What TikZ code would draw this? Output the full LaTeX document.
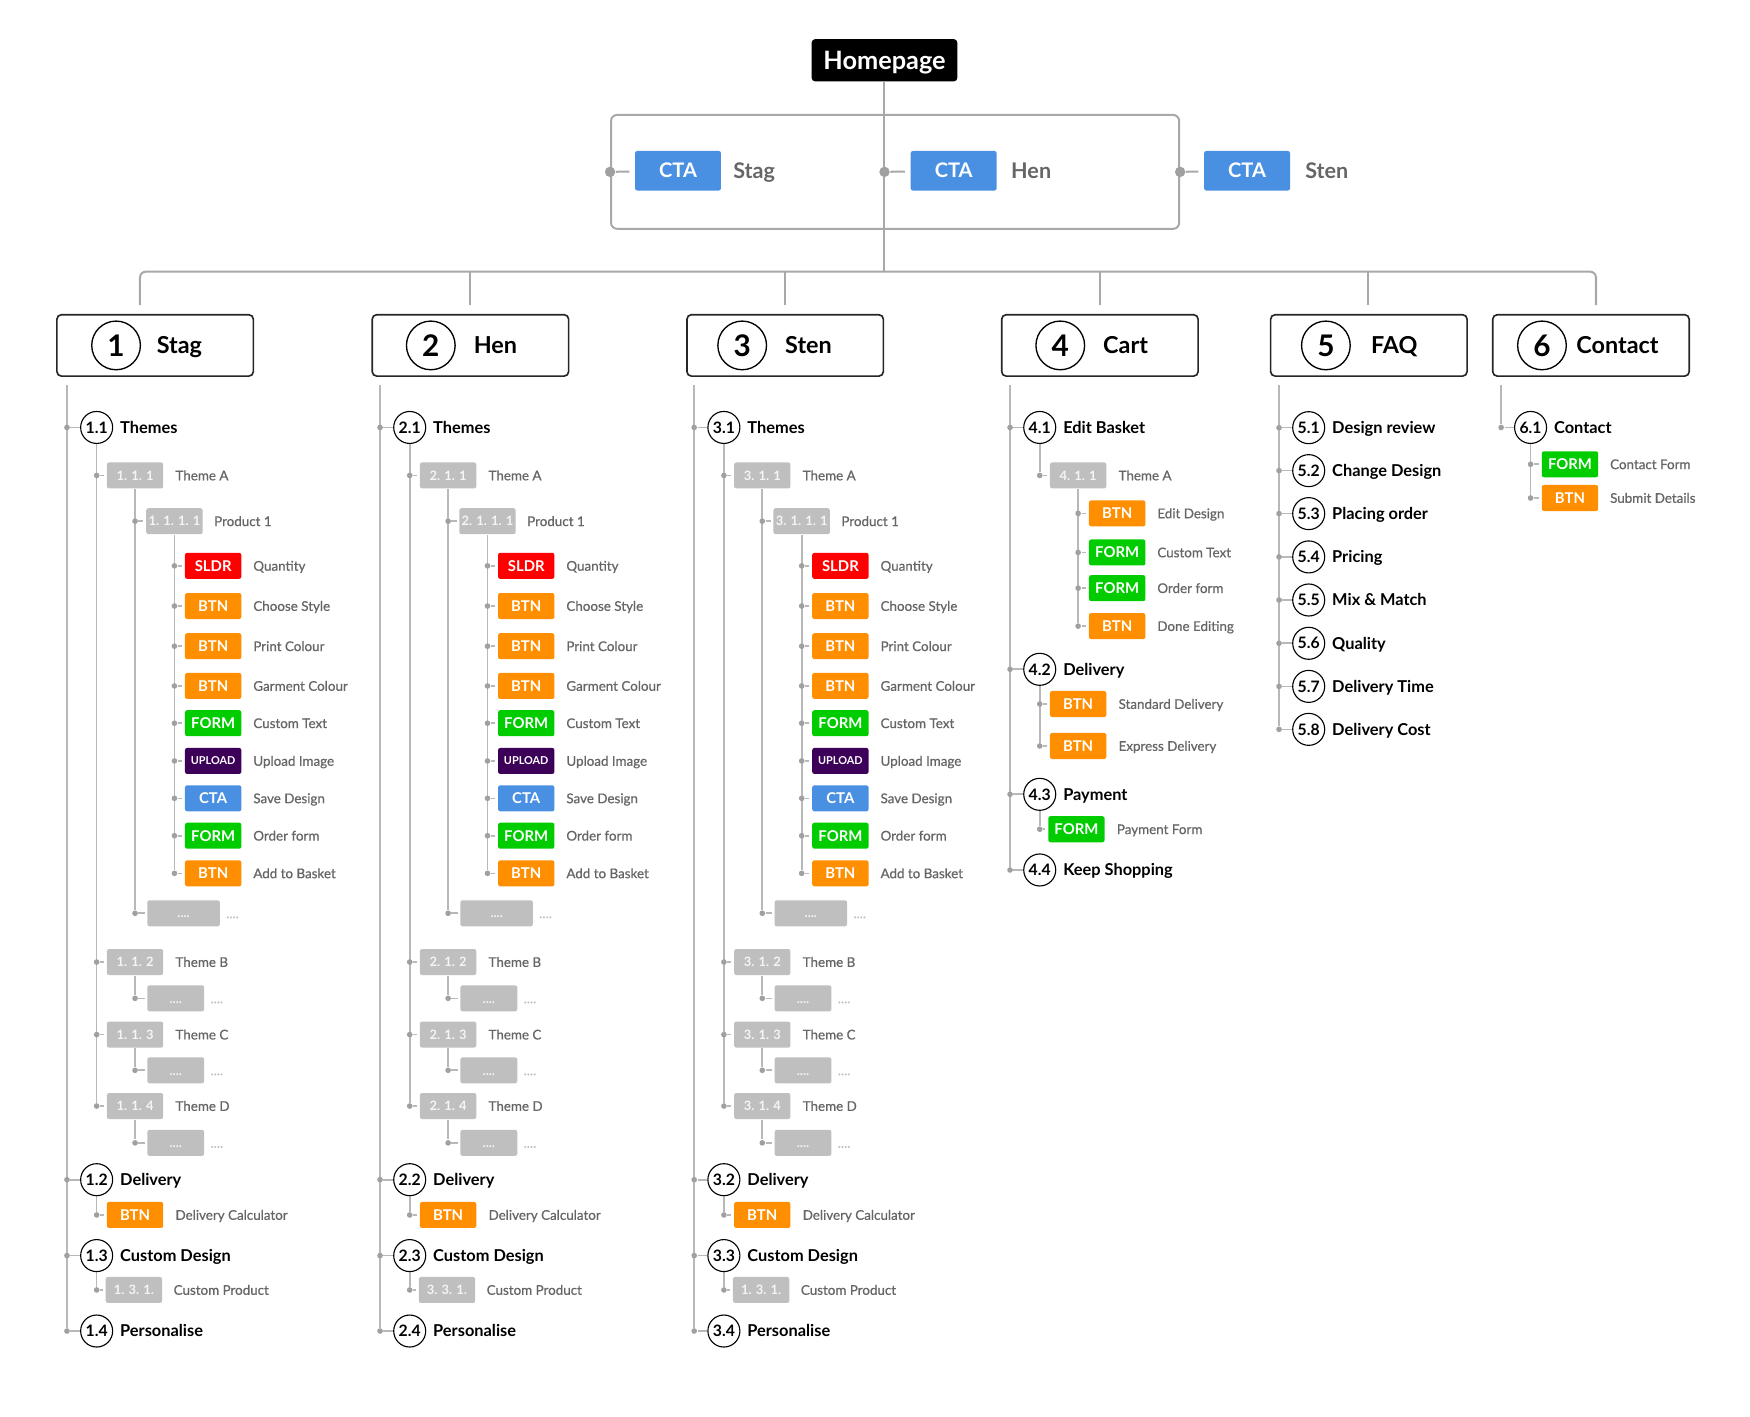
\documentclass[tikz,border=0pt]{standalone}
\usepackage{fontspec}
\setmainfont{Lato}
\newfontfamily\lblfont[FakeBold=0.7]{Lato}
\usetikzlibrary{positioning,backgrounds}
\definecolor{ctablue}{RGB}{74,144,226}
\definecolor{btnorange}{RGB}{255,143,0}
\definecolor{formgreen}{RGB}{0,204,0}
\definecolor{sldrred}{RGB}{255,0,0}
\definecolor{uploadpurple}{RGB}{60,0,88}
\definecolor{idgray}{RGB}{191,191,191}
\definecolor{idtext}{RGB}{245,245,245}
\definecolor{labelgray}{RGB}{102,102,102}
\definecolor{linegray}{RGB}{184,184,184}
\definecolor{dotgray}{RGB}{160,160,160}
\definecolor{framegray}{RGB}{168,168,168}
\newcommand{\pxfont}[1]{\fontsize{#1}{#1}\selectfont}
\tikzset{every picture/.style={line width=0.75pt}}
\tikzset{
  treelink/.style={draw=linegray, line width=1.1pt},
  toplink/.style={draw=framegray, line width=1.35pt},
  tdot/.style={circle, fill=dotgray, inner sep=0pt, minimum size=3.8pt},
  bigdot/.style={circle, fill=dotgray, inner sep=0pt, minimum size=7pt},
  tag/.style={rounded corners=1.5pt, minimum width=37.9pt, minimum height=17.5pt, inner sep=0pt, text=white, font=\bfseries\pxfont{10}, text height=7.2pt, text depth=0pt},
  sldrtag/.style={tag, fill=sldrred},
  btntag/.style={tag, fill=btnorange},
  formtag/.style={tag, fill=formgreen},
  ctatag/.style={tag, fill=ctablue},
  uploadtag/.style={tag, fill=uploadpurple, font=\bfseries\pxfont{7.3}, text height=5.3pt},
  idbox/.style={tag, fill=idgray, text=idtext, font=\bfseries\pxfont{8.7}, text height=6.3pt},
  morebox/.style={idbox, minimum width=38.25pt},
  widemore/.style={idbox, minimum width=48.75pt},
  lbl/.style={anchor=west, inner sep=0pt, text=labelgray, font=\lblfont\pxfont{9}, text height=6.5pt, text depth=0pt},
  morelbl/.style={lbl, text=idgray},
  itemnum/.style={circle, draw=black, line width=0.75pt, minimum size=21.5pt, inner sep=0pt, font=\bfseries\pxfont{10.6}},
  itemhead/.style={anchor=west, inner sep=0pt, font=\bfseries\pxfont{11}, text height=7.9pt, text depth=0pt},
  secbox/.style={draw=black!85, line width=1.1pt, rounded corners=3pt, minimum width=132pt, minimum height=41.25pt, inner sep=0pt},
  bignum/.style={circle, draw=black, line width=0.9pt, minimum size=32.7pt, inner sep=0pt, font=\bfseries\pxfont{20}, text height=14.4pt, text depth=0pt},
  sectitle/.style={anchor=west, inner sep=0pt, font=\bfseries\pxfont{15.7}, text height=11.3pt, text depth=0pt},
  homebox/.style={fill=black, text=white, rounded corners=2.5pt, minimum width=98pt, minimum height=28.5pt, inner sep=0pt, font=\bfseries\pxfont{17}, text height=12.2pt, text depth=0pt},
  framebox/.style={draw=framegray, line width=1.35pt, rounded corners=4pt, minimum width=381.75pt, minimum height=76.5pt, inner sep=0pt},
  bigcta/.style={ctatag, minimum width=57.75pt, minimum height=26.6pt, font=\bfseries\pxfont{13.5}, text height=9.7pt},
  toplbl/.style={anchor=west, inner sep=0pt, text=labelgray, font=\bfseries\pxfont{14.5}, text height=10.4pt, text depth=0pt}
}

\begin{document}
\begin{tikzpicture}[x=0.75pt,y=0.75pt,yscale=-1,xscale=1]
\useasboundingbox (0,0) rectangle (1568,1269);

% Homepage and CTA frame
\node[homebox] (home) at (792.5,54) {Homepage};
\coordinate (bus) at (792.5,243.4);
\node[framebox] (ctaframe) at (802,154) {};
\node[bigdot] (p1) at (ctaframe.west) {};
\node[bigdot] (p2) at (792.5,154) {};
\node[bigdot] (p3) at (ctaframe.east) {};
\node[bigcta] (k1) at (607.5,153) {CTA};
\node[bigcta] (k2) at (854.5,153) {CTA};
\node[bigcta] (k3) at (1117.4,153) {CTA};
\node[toplbl, right=7.5pt of k1] (q1) {Stag};
\node[toplbl, right=9pt of k2] (q2) {Hen};
\node[toplbl, right=9.5pt of k3] (q3) {Sten};

% Section boxes
\foreach \i/\cx/\nx/\tx/\t in {1/139/104/140/Stag, 2/421.5/386/424/Hen, 3/703.5/665/703/Sten, 4/985.5/950/988/Cart, 5/1226.5/1188/1228/FAQ, 6/1425.5/1381.6/1412/Contact}{
  \node[secbox] (s\i) at (\cx,309.5) {};
  \node[bignum] (n\i) at (\nx,309.5) {\i};
  \node[sectitle] (st\i) at (\tx,309.5) {\t};
}
\foreach \i/\dx in {1/125.4, 2/421, 3/703, 4/986, 5/1226, 6/1430}
  \coordinate (t\i) at (\dx,273.5);

\begin{scope}[on background layer]
  \draw[toplink] (home) -- (bus);
  \draw[toplink, rounded corners=4pt] (t1) |- (bus) -| (t6);
  \foreach \i in {2,...,5}
    \draw[toplink] (t\i |- bus) -- (t\i);
  \foreach \i in {1,2,3}
    \draw[toplink, shorten >=3.5pt] (p\i) -- (k\i);
\end{scope}

% Columns 1-3: Stag, Hen, Sten
\foreach \col/\dx/\cp in {1/0/{1. 3. 1.}, 2/280.5/{3. 3. 1.}, 3/562/{1. 3. 1.}}{
\begin{scope}[shift={(\dx,0)}]
  \coordinate (m\col) at (60,345);
  \foreach \k/\y/\t in {1/383/Themes, 2/1057/Delivery, 3/1125/Custom Design, 4/1192.6/Personalise}{
    \node[tdot] (d\col-\k) at (60,\y) {};
    \node[itemnum] (c\col-\k) at (86.6,\y) {\col.\k};
    \node[itemhead, right=4.3pt of c\col-\k] (h\col-\k) {\t};
  }
  % themes
  \foreach \k/\y/\t in {1/426/Theme A, 2/862/Theme B, 3/927/Theme C, 4/991/Theme D}{
    \node[tdot] (d\col-1\k) at (86.6,\y) {};
    \node[idbox] (b\col-1\k) at (121,\y) {\col. 1. \k};
    \node[lbl, right=7.5pt of b\col-1\k] (l\col-1\k) {\t};
  }
  \node[tdot] (d\col-111) at (121,467) {};
  \node[idbox] (b\col-111) at (156.3,467) {\col. 1. 1. 1};
  \node[lbl, right=7pt of b\col-111] (l\col-111) {Product 1};
  % widgets
  \foreach \k/\txt/\l/\y [count=\i] in {sldrtag/SLDR/Quantity/507, btntag/BTN/Choose Style/543, btntag/BTN/Print Colour/579, btntag/BTN/Garment Colour/614.6, formtag/FORM/Custom Text/648, uploadtag/UPLOAD/Upload Image/681.8, ctatag/CTA/Save Design/715.3, formtag/FORM/Order form/748.8, btntag/BTN/Add to Basket/782.5}{
    \node[tdot] (e\col-\i) at (156.3,\y) {};
    \node[\k] (w\col-\i) at (191,\y) {\txt};
    \node[lbl, right=7.3pt of w\col-\i] (v\col-\i) {\l};
  }
  % more
  \node[tdot] (x\col-1) at (121,818.3) {};
  \node[widemore] (y\col-1) at (164.5,818.3) {....};
  \node[morelbl, right=3.5pt of y\col-1] (z\col-1) {....};
  \foreach \k/\y in {2/894.5, 3/959, 4/1024}{
    \node[tdot] (x\col-\k) at (121,\y) {};
    \node[morebox] (y\col-\k) at (157.5,\y) {....};
    \node[morelbl, right=3.5pt of y\col-\k] (z\col-\k) {....};
  }
  % delivery and custom design
  \node[tdot] (d\col-21) at (86.6,1088.6) {};
  \node[btntag] (b\col-21) at (121,1088.6) {BTN};
  \node[lbl, right=7.5pt of b\col-21] (l\col-21) {Delivery Calculator};
  \node[tdot] (d\col-31) at (86.6,1155.8) {};
  \node[idbox] (b\col-31) at (120,1155.8) {\cp};
  \node[lbl, right=7pt of b\col-31] (l\col-31) {Custom Product};
\end{scope}
\begin{scope}[on background layer]
  \draw[treelink] (m\col) -- (d\col-4);
  \foreach \k in {1,...,4}{
    \draw[treelink] (d\col-\k) -- (c\col-\k);
    \draw[treelink, shorten >=1.5pt] (d\col-1\k) -- (b\col-1\k);
    \draw[treelink, shorten >=1.5pt] (x\col-\k) -- (y\col-\k);
  }
  \foreach \k in {2,3,4}
    \draw[treelink] (b\col-1\k) -- (x\col-\k);
  \draw[treelink] (c\col-1) -- (d\col-14);
  \draw[treelink] (b\col-11) -- (x\col-1);
  \draw[treelink, shorten >=1.5pt] (d\col-111) -- (b\col-111);
  \draw[treelink] (b\col-111) -- (e\col-9);
  \foreach \i in {1,...,9}
    \draw[treelink, shorten >=1.5pt] (e\col-\i) -- (w\col-\i);
  \draw[treelink] (c\col-2) -- (d\col-21);
  \draw[treelink, shorten >=1.5pt] (d\col-21) -- (b\col-21);
  \draw[treelink] (c\col-3) -- (d\col-31);
  \draw[treelink, shorten >=1.5pt] (d\col-31) -- (b\col-31);
\end{scope}
}

% Column 4: Cart
\coordinate (m4) at (905,345);
\foreach \k/\y/\t in {1/383/Edit Basket, 2/599.7/Delivery, 3/711.7/Payment, 4/779.5/Keep Shopping}{
  \node[tdot] (d4-\k) at (905,\y) {};
  \node[itemnum] (c4-\k) at (931.6,\y) {4.\k};
  \node[itemhead, right=4.3pt of c4-\k] (h4-\k) {\t};
}
\node[tdot] (d4-11) at (931.6,426) {};
\node[idbox] (b4-11) at (966,426) {4. 1. 1};
\node[lbl, right=7.5pt of b4-11] (l4-11) {Theme A};
\foreach \k/\txt/\l/\y [count=\i] in {btntag/BTN/Edit Design/460, formtag/FORM/Custom Text/495, formtag/FORM/Order form/527, btntag/BTN/Done Editing/561}{
  \node[tdot] (e4-\i) at (966,\y) {};
  \node[\k] (w4-\i) at (1001,\y) {\txt};
  \node[lbl, right=7.3pt of w4-\i] (v4-\i) {\l};
}
\foreach \k/\l/\y in {1/Standard Delivery/630.8, 2/Express Delivery/668.4}{
  \node[tdot] (d4-2\k) at (931.6,\y) {};
  \node[btntag] (b4-2\k) at (966,\y) {BTN};
  \node[lbl, right=7.5pt of b4-2\k] (l4-2\k) {\l};
}
\node[tdot] (d4-31) at (931.6,743) {};
\node[formtag] (b4-31) at (964.5,743) {FORM};
\node[lbl, right=7.5pt of b4-31] (l4-31) {Payment Form};
\begin{scope}[on background layer]
  \draw[treelink] (m4) -- (d4-4);
  \foreach \k in {1,...,4}
    \draw[treelink] (d4-\k) -- (c4-\k);
  \draw[treelink] (c4-1) -- (d4-11);
  \draw[treelink, shorten >=1.5pt] (d4-11) -- (b4-11);
  \draw[treelink] (b4-11) -- (e4-4);
  \foreach \i in {1,...,4}
    \draw[treelink, shorten >=1.5pt] (e4-\i) -- (w4-\i);
  \draw[treelink] (c4-2) -- (d4-22);
  \foreach \k in {1,2}
    \draw[treelink, shorten >=1.5pt] (d4-2\k) -- (b4-2\k);
  \draw[treelink] (c4-3) -- (d4-31);
  \draw[treelink, shorten >=1.5pt] (d4-31) -- (b4-31);
\end{scope}

% Column 5: FAQ
\coordinate (m5) at (1146,345);
\foreach \k/\y/\t in {1/383.2/Design review, 2/421.7/Change Design, 3/460.2/Placing order, 4/499/Pricing, 5/537.6/Mix \& Match, 6/576.4/Quality, 7/615/Delivery Time, 8/653.5/Delivery Cost}{
  \node[tdot] (d5-\k) at (1146,\y) {};
  \node[itemnum] (c5-\k) at (1172.6,\y) {5.\k};
  \node[itemhead, right=4.3pt of c5-\k] (h5-\k) {\t};
}
\begin{scope}[on background layer]
  \draw[treelink] (m5) -- (d5-8);
  \foreach \k in {1,...,8}
    \draw[treelink] (d5-\k) -- (c5-\k);
\end{scope}

% Column 6: Contact
\coordinate (m6) at (1345,345);
\node[tdot] (d6-1) at (1345,383) {};
\node[itemnum] (c6-1) at (1371.4,383) {6.1};
\node[itemhead, right=4.3pt of c6-1] (h6-1) {Contact};
\foreach \k/\kind/\txt/\l/\y in {1/formtag/FORM/Contact Form/416, 2/btntag/BTN/Submit Details/446.2}{
  \node[tdot] (d6-1\k) at (1371.4,\y) {};
  \node[\kind] (b6-1\k) at (1406.7,\y) {\txt};
  \node[lbl, right=7.3pt of b6-1\k] (l6-1\k) {\l};
}
\begin{scope}[on background layer]
  \draw[treelink] (m6) -- (d6-1);
  \draw[treelink] (d6-1) -- (c6-1);
  \draw[treelink] (c6-1) -- (d6-12);
  \foreach \k in {1,2}
    \draw[treelink, shorten >=1.5pt] (d6-1\k) -- (b6-1\k);
\end{scope}

\end{tikzpicture}
\end{document}
